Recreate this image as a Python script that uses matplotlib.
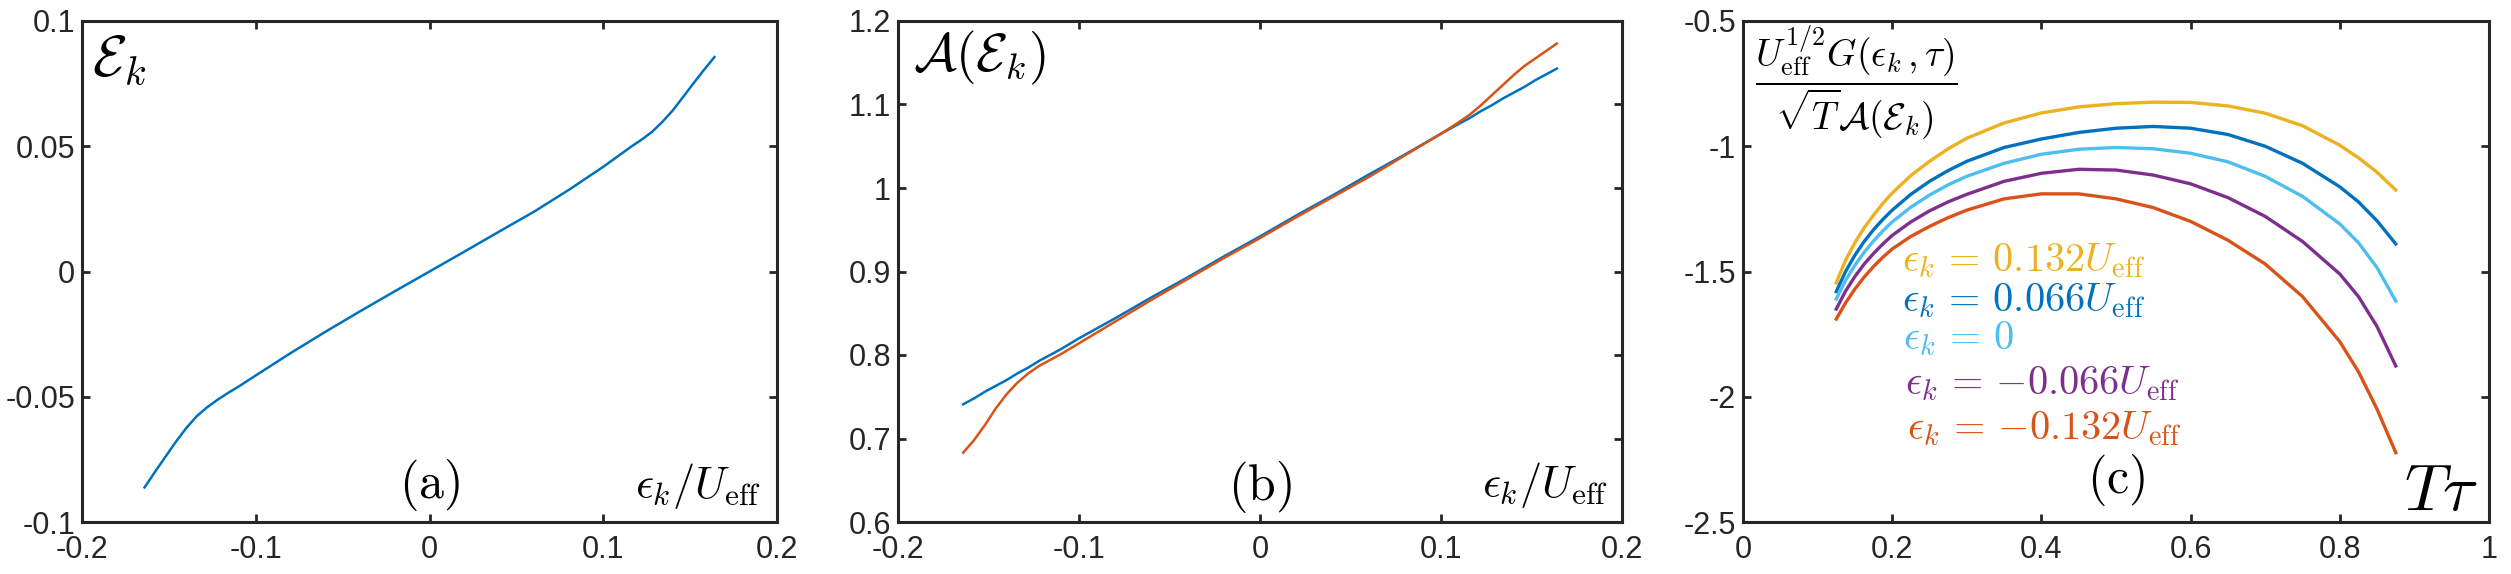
import matplotlib
matplotlib.use("Agg")
import matplotlib.pyplot as plt

plt.rcParams['font.family'] = ['Liberation Sans Narrow', 'Liberation Sans', 'DejaVu Sans']
plt.rcParams['mathtext.fontset'] = 'cm'
plt.rcParams['axes.unicode_minus'] = False

# MATLAB default colours
c_blue = '#0072BD'
c_orange = '#D95319'
c_yellow = '#EDB120'
c_purple = '#7E2F8E'
c_cyan = '#4DBEEE'
c_axis = '#262626'

# panel (a): renormalised energy vs bare energy
ek_a = [-0.164, -0.158, -0.152, -0.146, -0.140, -0.134, -0.128, -0.122, -0.116, -0.110,
        -0.100, -0.080, -0.060, -0.040, -0.020, 0.0, 0.020, 0.040, 0.060, 0.080,
        0.100, 0.110, 0.116, 0.122, 0.128, 0.134, 0.140, 0.146, 0.152, 0.158, 0.164]
E_k = [-0.0862, -0.0800, -0.0740, -0.0680, -0.0625, -0.0578, -0.0542, -0.0512, -0.0485, -0.0460,
       -0.0415, -0.0326, -0.0241, -0.0159, -0.0079, 0.0, 0.0079, 0.0159, 0.0238, 0.0325,
       0.0418, 0.0468, 0.0498, 0.0526, 0.0557, 0.0597, 0.0643, 0.0697, 0.0752, 0.0805, 0.0856]

# panel (b): A(E_k), blue = linear, orange = full
ek_b = ek_a
A_lin = [0.741, 0.748, 0.756, 0.763, 0.770, 0.778, 0.785, 0.793, 0.800, 0.807,
         0.820, 0.844, 0.869, 0.893, 0.918, 0.942, 0.967, 0.991, 1.016, 1.040,
         1.065, 1.077, 1.084, 1.092, 1.099, 1.107, 1.114, 1.121, 1.129, 1.136, 1.143]
A_full = [0.683, 0.698, 0.716, 0.736, 0.753, 0.767, 0.778, 0.787, 0.794, 0.801,
          0.814, 0.840, 0.866, 0.891, 0.916, 0.940, 0.965, 0.989, 1.013, 1.039,
          1.065, 1.079, 1.088, 1.099, 1.111, 1.123, 1.135, 1.146, 1.155, 1.164, 1.173]

# panel (c): scaled Green's function vs T*tau
Ttau = [0.125, 0.1375, 0.15, 0.1625, 0.175, 0.1875, 0.2, 0.225, 0.25, 0.275, 0.3, 0.35,
        0.4, 0.45, 0.5, 0.55, 0.6, 0.65, 0.7, 0.75, 0.8, 0.825, 0.85, 0.875]
G_p132 = [-1.545, -1.455, -1.385, -1.325, -1.275, -1.228, -1.187, -1.117, -1.060, -1.010,
          -0.968, -0.907, -0.867, -0.843, -0.830, -0.824, -0.825, -0.839, -0.868,
          -0.918, -0.996, -1.046, -1.104, -1.175]
G_p066 = [-1.580, -1.500, -1.435, -1.380, -1.333, -1.292, -1.255, -1.192, -1.140, -1.097,
          -1.060, -1.005, -0.971, -0.945, -0.928, -0.921, -0.928, -0.953, -1.000,
          -1.068, -1.162, -1.222, -1.298, -1.390]
G_0 = [-1.610, -1.535, -1.475, -1.423, -1.378, -1.338, -1.302, -1.243, -1.195, -1.154,
       -1.120, -1.068, -1.032, -1.012, -1.005, -1.010, -1.028, -1.062, -1.120,
       -1.200, -1.310, -1.385, -1.485, -1.618]
G_m066 = [-1.650, -1.578, -1.520, -1.470, -1.428, -1.390, -1.356, -1.302, -1.258, -1.222,
          -1.192, -1.140, -1.108, -1.092, -1.095, -1.115, -1.150, -1.205, -1.280,
          -1.380, -1.510, -1.600, -1.720, -1.877]
G_m132 = [-1.690, -1.625, -1.570, -1.522, -1.480, -1.443, -1.410, -1.360, -1.320, -1.285,
          -1.255, -1.210, -1.190, -1.190, -1.210, -1.245, -1.300, -1.375, -1.470,
          -1.600, -1.780, -1.900, -2.050, -2.223]

curves_c = [G_p132, G_p066, G_0, G_m066, G_m132]
colors_c = [c_yellow, c_blue, c_cyan, c_purple, c_orange]
labels_c = [r'$\epsilon_k\,=\,0.132U_{\mathrm{eff}}$',
            r'$\epsilon_k\,=\,0.066U_{\mathrm{eff}}$',
            r'$\epsilon_k\,=\,0$',
            r'$\epsilon_k\,=\,{-}0.066U_{\mathrm{eff}}$',
            r'$\epsilon_k\,=\,{-}0.132U_{\mathrm{eff}}$']
label_x = [0.213, 0.213, 0.214, 0.217, 0.220]
label_y = [-1.50, -1.659, -1.811, -1.99, -2.169]

xt_ab = [-0.2, -0.1, 0, 0.1, 0.2]
xtl_ab = ['-0.2', '-0.1', '0', '0.1', '0.2']
yt_a = [-0.1, -0.05, 0, 0.05, 0.1]
ytl_a = ['-0.1', '-0.05', '0', '0.05', '0.1']
yt_b = [0.6, 0.7, 0.8, 0.9, 1.0, 1.1, 1.2]
ytl_b = ['0.6', '0.7', '0.8', '0.9', '1', '1.1', '1.2']
xt_c = [0, 0.2, 0.4, 0.6, 0.8, 1]
xtl_c = ['0', '0.2', '0.4', '0.6', '0.8', '1']
yt_c = [-2.5, -2, -1.5, -1, -0.5]
ytl_c = ['-2.5', '-2', '-1.5', '-1', '-0.5']


def style(ax):
    for s in ax.spines.values():
        s.set_linewidth(2.2)
        s.set_color(c_axis)
    ax.tick_params(direction='in', top=True, right=True, length=6, width=2,
                   color=c_axis, labelcolor=c_axis, labelsize=22)
    ax.tick_params(axis='x', pad=9)
    ax.tick_params(axis='y', pad=5)


fig = plt.figure(figsize=(25.11, 5.74), dpi=100)
H = 574.0
W = 2511.0
bot = 1 - 522 / H
hgt = 501 / H
ax1 = fig.add_axes([82 / W, bot, 695 / W, hgt])
ax2 = fig.add_axes([898 / W, bot, 724 / W, hgt])
ax3 = fig.add_axes([1743 / W, bot, 746 / W, hgt])

# (a)
ax1.plot(ek_a, E_k, color=c_blue, lw=1.8)
ax1.set_xlim(-0.2, 0.2)
ax1.set_ylim(-0.1, 0.1)
ax1.set_xticks(xt_ab, xtl_ab)
ax1.set_yticks(yt_a, ytl_a)
style(ax1)
ax1.text(0.014, 0.975, r'$\mathcal{E}_k$', transform=ax1.transAxes, fontsize=41,
         ha='left', va='top')
ax1.text(0.977, 0.048, r'$\epsilon_k/U_{\mathrm{eff}}$', transform=ax1.transAxes,
         fontsize=32, ha='right', va='baseline')
ax1.text(0.5, 0.074, r'$(\mathrm{a})$', transform=ax1.transAxes, fontsize=36,
         ha='center', va='center')

# (b)
ax2.plot(ek_b, A_lin, color=c_blue, lw=1.8)
ax2.plot(ek_b, A_full, color=c_orange, lw=1.8)
ax2.set_xlim(-0.2, 0.2)
ax2.set_ylim(0.6, 1.2)
ax2.set_xticks(xt_ab, xtl_ab)
ax2.set_yticks(yt_b, ytl_b)
style(ax2)
ax2.text(0.021, 0.985, r'$\mathcal{A}(\mathcal{E}_k)$', transform=ax2.transAxes,
         fontsize=38, ha='left', va='top')
ax2.text(0.981, 0.05, r'$\epsilon_k/U_{\mathrm{eff}}$', transform=ax2.transAxes,
         fontsize=32, ha='right', va='baseline')
ax2.text(0.5, 0.07, r'$(\mathrm{b})$', transform=ax2.transAxes, fontsize=36,
         ha='center', va='center')

# (c)
for g, c in zip(curves_c, colors_c):
    ax3.plot(Ttau, g, color=c, lw=2.4)
for lab, c, x, y in zip(labels_c, colors_c, label_x, label_y):
    ax3.text(x, y, lab, color=c, fontsize=29, ha='left', va='baseline')
ax3.set_xlim(0, 1)
ax3.set_ylim(-2.5, -0.5)
ax3.set_xticks(xt_c, xtl_c)
ax3.set_yticks(yt_c, ytl_c)
style(ax3)
ax3.text(0.016, 0.995,
         r'$\dfrac{U_{\mathrm{eff}}^{1/2}G(\epsilon_k\,,\tau)}{\sqrt{T}\mathcal{A}(\mathcal{E}_k)}$',
         transform=ax3.transAxes, fontsize=27, ha='left', va='top')
ax3.text(0.984, 0.024, r'$T\tau$', transform=ax3.transAxes, fontsize=47,
         ha='right', va='baseline')
ax3.text(0.5, 0.084, r'$(\mathrm{c})$', transform=ax3.transAxes, fontsize=36,
         ha='center', va='center')

fig.savefig('out.png', dpi=100)
